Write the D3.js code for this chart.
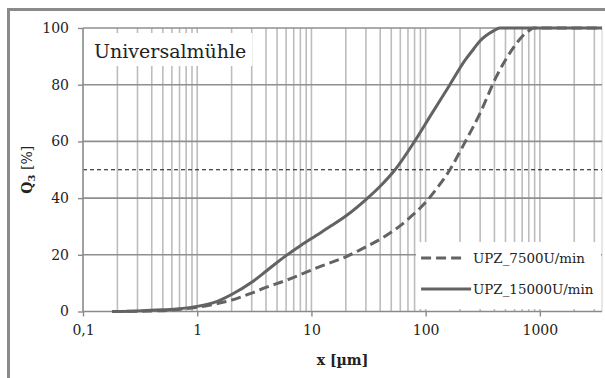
<!DOCTYPE html>
<html>
<head>
<meta charset="utf-8">
<script src="https://cdn.jsdelivr.net/npm/d3@7"></script>
<style>
  html, body { margin: 0; padding: 0; background: #fff; }
  svg { display: block; }
  text { font-family: "DejaVu Serif", "Liberation Serif", serif; fill: #222; }
</style>
</head>
<body>
<div id="chart"></div>
<script>
// particle size distribution, Q3 vs x (log scale)
const seriesNames = ['UPZ_7500U/min', 'UPZ_15000U/min'];

const x7500 = [0.18, 0.3, 0.5, 0.8, 1, 1.5, 2, 3, 4, 6, 8, 12, 20, 30, 42, 60, 73, 100, 123, 163, 213, 300, 418, 585, 700, 818, 880, 3500];
const q7500 = [0, 0.1, 0.3, 1.0, 1.5, 2.8, 4, 6.5, 8.5, 11, 13, 15.9, 19.3, 22.8, 26, 30.3, 33.2, 38.5, 43, 50, 58.5, 70, 83, 93, 97, 99.3, 100, 100];

const x15000 = [0.18, 0.3, 0.5, 0.7, 1, 1.5, 2, 3, 4, 5, 6, 8, 11, 15, 20, 30, 40, 54, 80, 110, 163, 220, 262, 300, 393, 445, 3500];
const q15000 = [0, 0.2, 0.6, 1.0, 1.8, 3.6, 6, 10.3, 14.2, 17.3, 19.7, 23.2, 26.8, 30.3, 33.7, 39.5, 44.2, 50, 60, 69, 80, 88.5, 92.5, 95.5, 99, 100, 100];

const xTicks = [0.1, 1, 10, 100, 1000];
const yTicks = [0, 20, 40, 60, 80, 100];

const W = 605, H = 378;
const margin = { top: 28, right: 3, bottom: 66.5, left: 83 };
const width = W - margin.left - margin.right;
const height = H - margin.top - margin.bottom;

const svg = d3.select('#chart').append('svg')
  .attr('width', W)
  .attr('height', H);

// outer frame (only top + left visible)
svg.append('path')
  .attr('d', `M8.5,${H} V9.5 H${W}`)
  .attr('fill', 'none')
  .attr('stroke', '#8a8a8a')
  .attr('stroke-width', 3);

const g = svg.append('g')
  .attr('transform', `translate(${margin.left},${margin.top})`);

const xScale = d3.scaleLog()
  .domain([0.1, 3500])
  .range([0, width]);

const yScale = d3.scaleLinear()
  .domain([0, 100])
  .range([height, 0]);

// vertical grid (every 1..9 of each decade)
const gridX = xScale.ticks().filter(v => v > 0.1 && v <= 3500);
g.append('g')
  .selectAll('line')
  .data(gridX)
  .join('line')
  .attr('x1', d => xScale(d))
  .attr('x2', d => xScale(d))
  .attr('y1', 0)
  .attr('y2', height)
  .attr('stroke', '#bdbdbd')
  .attr('stroke-width', 1.6);

// right edge
g.append('line')
  .attr('x1', width).attr('x2', width)
  .attr('y1', 0).attr('y2', height)
  .attr('stroke', '#d0d0d0')
  .attr('stroke-width', 1);

// horizontal grid
g.append('g')
  .selectAll('line')
  .data(yTicks.filter(v => v > 0))
  .join('line')
  .attr('x1', 0)
  .attr('x2', width)
  .attr('y1', d => yScale(d))
  .attr('y2', d => yScale(d))
  .attr('stroke', '#8f8f8f')
  .attr('stroke-width', 1.6);

// 50 % reference line
g.append('line')
  .attr('x1', 0).attr('x2', width)
  .attr('y1', yScale(50)).attr('y2', yScale(50))
  .attr('stroke', '#111')
  .attr('stroke-width', 1)
  .attr('stroke-dasharray', '4,3');

// axes
const yAxis = g.append('g')
  .call(d3.axisLeft(yScale).tickValues(yTicks).tickSize(5).tickPadding(9).tickFormat(d3.format('d')));

const xAxis = g.append('g')
  .attr('transform', `translate(0,${height})`)
  .call(d3.axisBottom(xScale).tickValues(xTicks).tickSize(5).tickPadding(9)
    .tickFormat(d => d < 1 ? String(d).replace('.', ',') : String(d)));

[yAxis, xAxis].forEach(ax => {
  ax.select('.domain').attr('stroke', '#8a8a8a').attr('stroke-width', 1.6);
  ax.selectAll('.tick line').attr('stroke', '#8a8a8a').attr('stroke-width', 1.4);
  ax.selectAll('.tick text')
    .style('font-family', '"DejaVu Serif", serif')
    .style('font-size', '14px')
    .attr('fill', '#222');
});
xAxis.select('.domain').attr('d', `M0,0H${width}`);
yAxis.select('.domain').attr('d', `M0,0V${height}`);

// annotation box
g.append('rect')
  .attr('x', 1.5)
  .attr('y', 5)
  .attr('width', 168)
  .attr('height', 33)
  .attr('fill', '#fff');

g.append('text')
  .attr('x', 11)
  .attr('y', 30)
  .style('font-size', '19px')
  .text('Universalmühle');

// curves
const data7500 = x7500.map((v, i) => ({ x: v, q: q7500[i] }));
const data15000 = x15000.map((v, i) => ({ x: v, q: q15000[i] }));

const line = d3.line()
  .x(d => xScale(d.x))
  .y(d => yScale(d.q))
  .curve(d3.curveMonotoneX);

g.append('path')
  .datum(data15000)
  .attr('d', line)
  .attr('fill', 'none')
  .attr('stroke', '#636363')
  .attr('stroke-width', 3);

g.append('path')
  .datum(data7500)
  .attr('d', line)
  .attr('fill', 'none')
  .attr('stroke', '#636363')
  .attr('stroke-width', 3)
  .attr('stroke-dasharray', '10,5');

// legend
const legendX = xScale(80) + 1.5;
const legend = g.append('g')
  .attr('transform', `translate(${legendX},214)`);

legend.append('rect')
  .attr('width', width - legendX - 1)
  .attr('height', 67)
  .attr('fill', '#fff');

const legendRows = [
  { name: seriesNames[0], dash: '10,5', len: 43, y: 16 },
  { name: seriesNames[1], dash: null, len: 50, y: 47 }
];

legendRows.forEach(r => {
  legend.append('line')
    .attr('x1', 5).attr('x2', 5 + r.len)
    .attr('y1', r.y).attr('y2', r.y)
    .attr('stroke', '#636363')
    .attr('stroke-width', 3)
    .attr('stroke-dasharray', r.dash);
  legend.append('text')
    .attr('x', 57)
    .attr('y', r.y + 5)
    .style('font-size', '13.4px')
    .text(r.name);
});

// axis titles
svg.append('text')
  .attr('x', margin.left + width / 2)
  .attr('y', 365)
  .attr('text-anchor', 'middle')
  .style('font-size', '14px')
  .style('font-weight', 'bold')
  .text('x [µm]');

const yTitle = svg.append('text')
  .attr('transform', `translate(32,${margin.top + height / 2}) rotate(-90)`)
  .attr('text-anchor', 'middle')
  .style('font-size', '14px')
  .style('font-weight', 'bold');
yTitle.append('tspan').text('Q');
yTitle.append('tspan').attr('dy', 3).style('font-size', '10px').text('3');
yTitle.append('tspan').attr('dy', -3).style('font-weight', 'normal').text(' [%]');
</script>
</body>
</html>
